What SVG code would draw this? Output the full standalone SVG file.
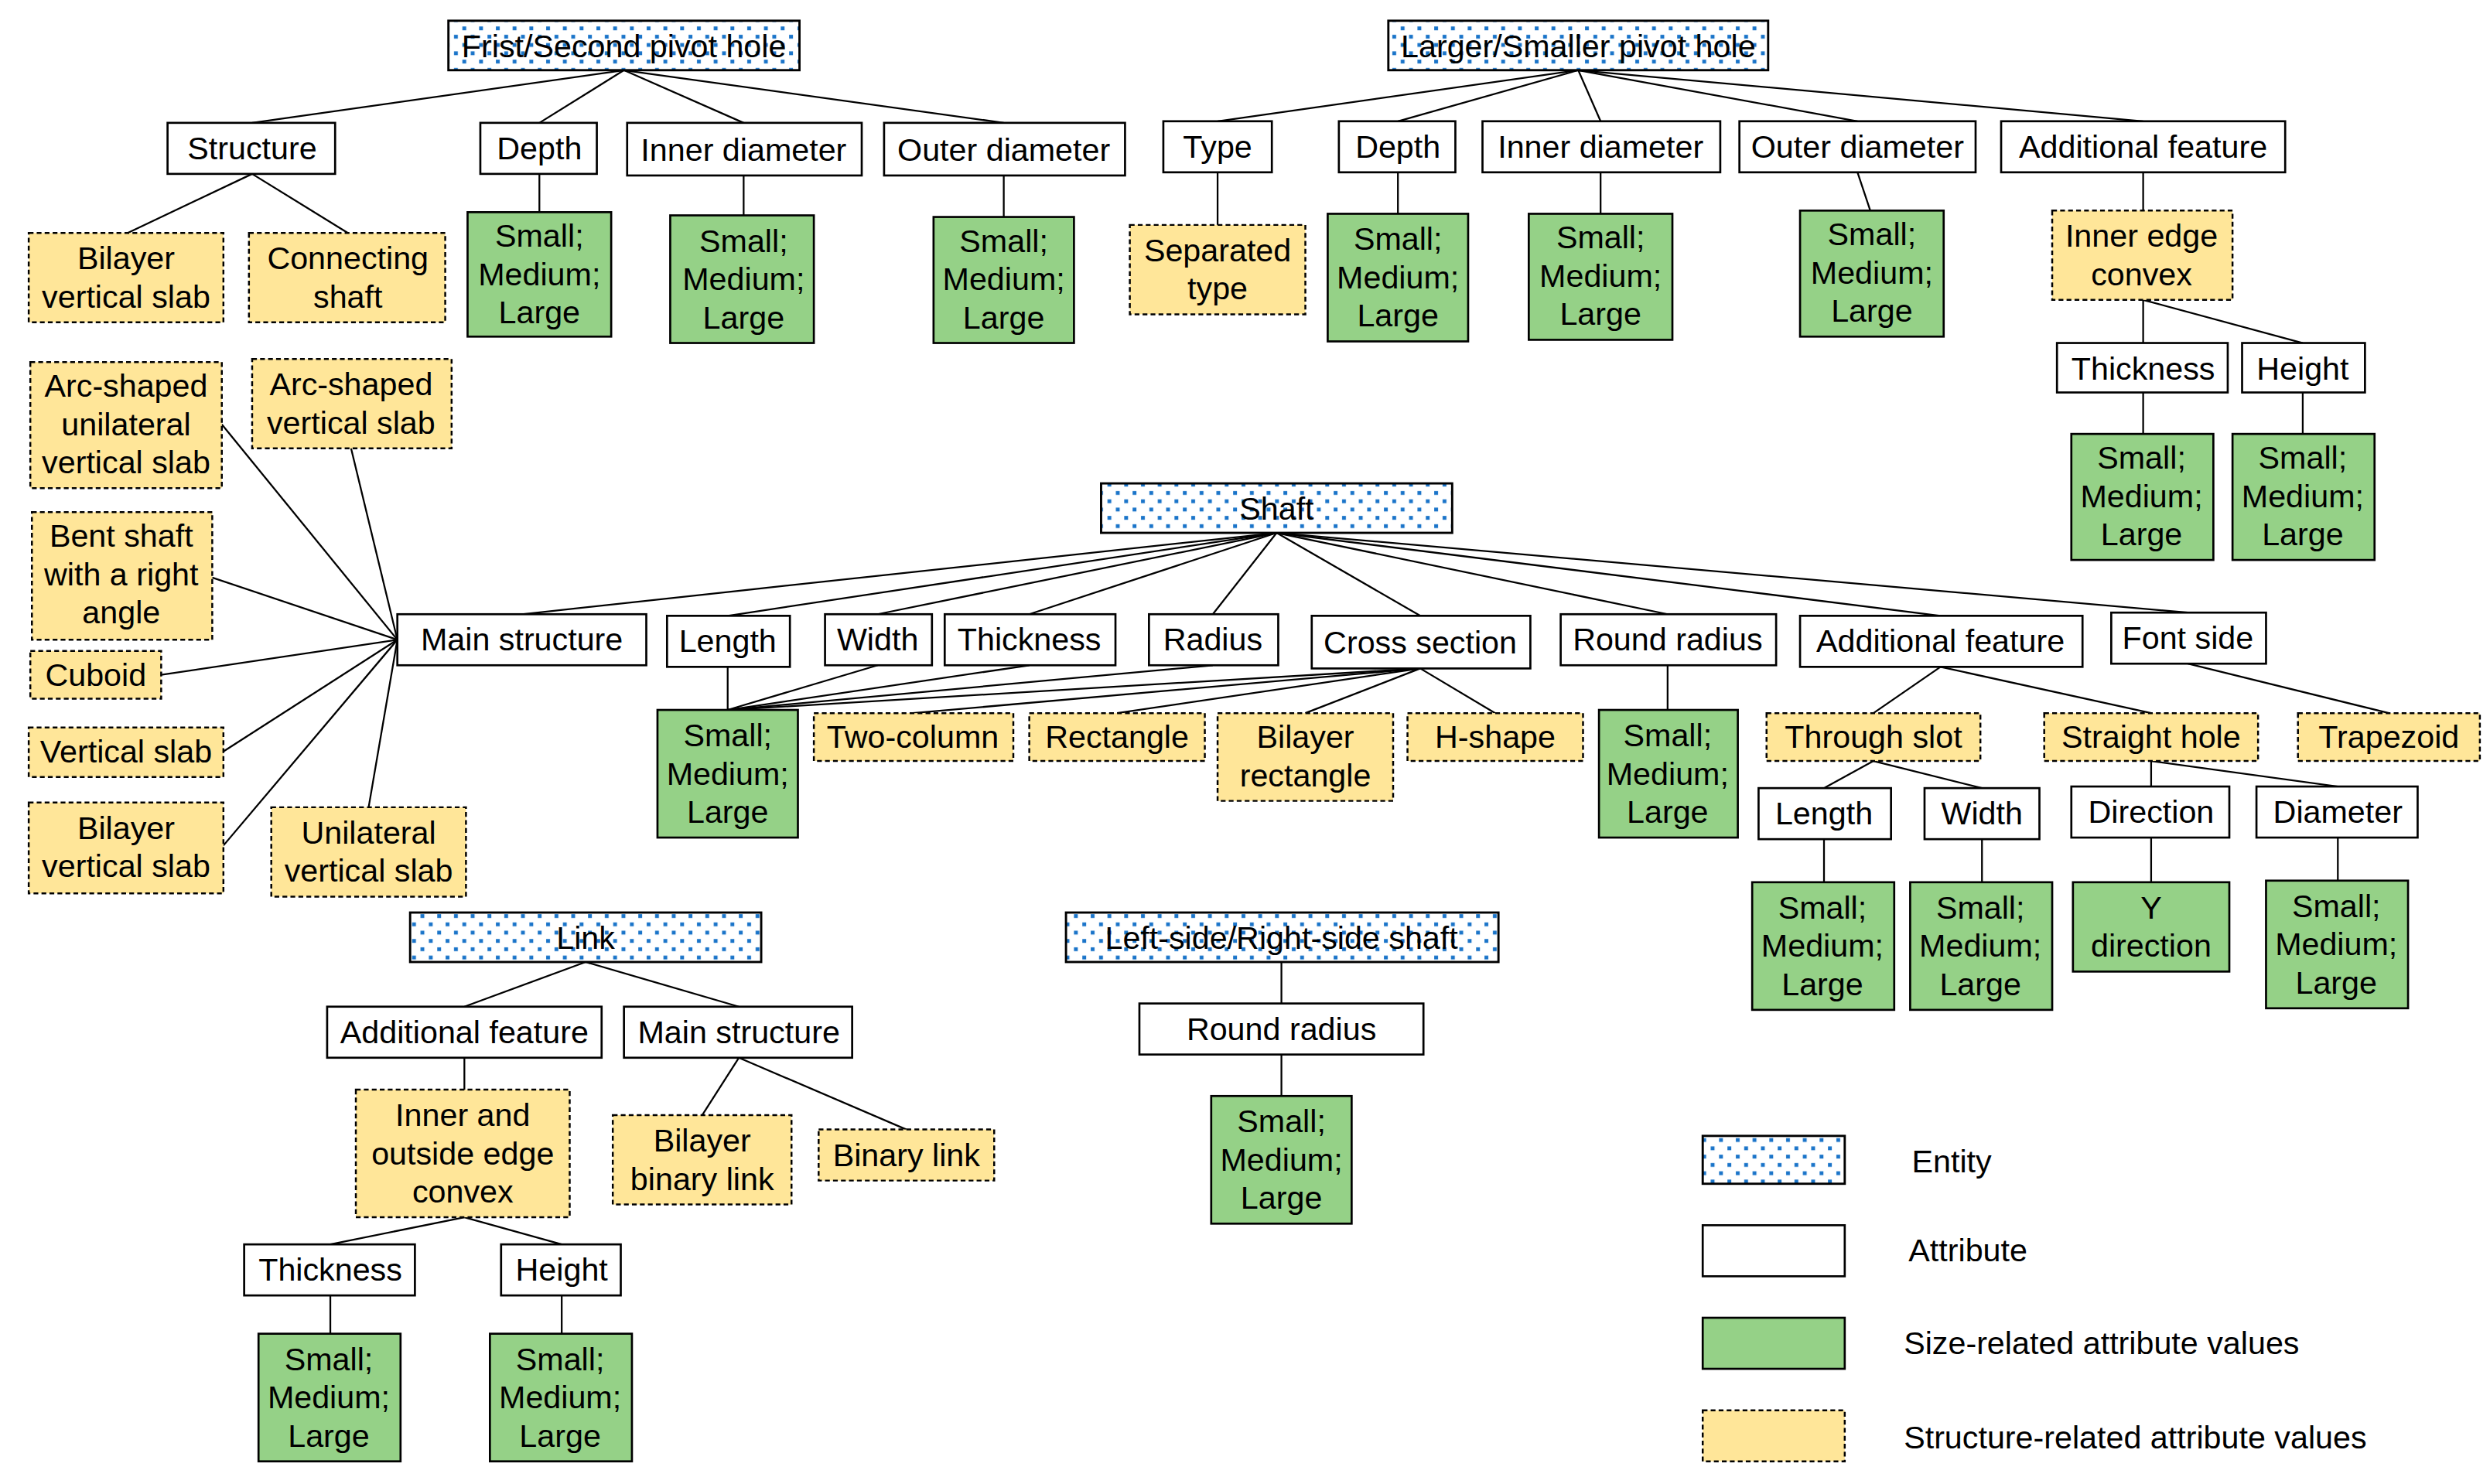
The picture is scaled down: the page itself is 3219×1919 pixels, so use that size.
<svg xmlns="http://www.w3.org/2000/svg" width="3219" height="1919" viewBox="0 0 3219 1919">
<style>
text{font-family:"Liberation Sans",Arial,sans-serif;font-size:20px;fill:#000;text-anchor:middle;dominant-baseline:central}
.lg{text-anchor:start}
.e{fill:url(#dots);stroke:#000;stroke-width:1.4}
.a{fill:#fff;stroke:#000;stroke-width:1.3}
.g{fill:#95d187;stroke:#000;stroke-width:1.3}
.y{fill:#ffe699;stroke:#000;stroke-width:1.2;stroke-dasharray:3 2}
#conn line{stroke:#000;stroke-width:1.1}
</style>
<defs>
<pattern id="dots" width="10.5" height="10.4" patternUnits="userSpaceOnUse">
<rect width="10.5" height="10.4" fill="#fff"/>
<rect x="1" y="1" width="2.4" height="2.4" fill="#1a74c9"/>
<rect x="6.25" y="6.2" width="2.4" height="2.4" fill="#1a74c9"/>
</pattern>
</defs>
<rect width="3219" height="1919" fill="#fff"/>
<g transform="scale(2.063)">
<g id="conn">
<line x1="391" y1="44" x2="158" y2="77"/><line x1="391" y1="44" x2="338" y2="77"/><line x1="391" y1="44" x2="466" y2="77"/><line x1="391" y1="44" x2="629" y2="77"/>
<line x1="158" y1="109" x2="80" y2="146"/><line x1="158" y1="109" x2="218" y2="146"/>
<line x1="338" y1="109" x2="338" y2="133"/><line x1="466" y1="110" x2="466" y2="135"/><line x1="629" y1="110" x2="629" y2="136"/>
<line x1="989" y1="44" x2="763" y2="76"/><line x1="989" y1="44" x2="876" y2="76"/><line x1="989" y1="44" x2="1003" y2="76"/><line x1="989" y1="44" x2="1164" y2="76"/><line x1="989" y1="44" x2="1343" y2="76"/>
<line x1="763" y1="108" x2="763" y2="141"/><line x1="876" y1="108" x2="876" y2="134"/><line x1="1003" y1="108" x2="1003" y2="134"/><line x1="1164" y1="108" x2="1172" y2="132"/><line x1="1343" y1="108" x2="1343" y2="132"/>
<line x1="1343" y1="188" x2="1343" y2="215"/><line x1="1343" y1="188" x2="1443" y2="215"/>
<line x1="1343" y1="246" x2="1343" y2="272"/><line x1="1443" y1="246" x2="1443" y2="272"/>
<line x1="800" y1="334" x2="327" y2="385"/><line x1="800" y1="334" x2="456" y2="386"/><line x1="800" y1="334" x2="550" y2="385"/><line x1="800" y1="334" x2="645" y2="385"/><line x1="800" y1="334" x2="760" y2="385"/><line x1="800" y1="334" x2="890" y2="386"/><line x1="800" y1="334" x2="1045" y2="385"/><line x1="800" y1="334" x2="1216" y2="386"/><line x1="800" y1="334" x2="1371" y2="384"/>
<line x1="249" y1="401" x2="139" y2="266"/><line x1="249" y1="401" x2="220" y2="281"/><line x1="249" y1="401" x2="133" y2="362"/><line x1="249" y1="401" x2="101" y2="423"/><line x1="249" y1="401" x2="140" y2="471"/><line x1="249" y1="401" x2="140" y2="530"/><line x1="249" y1="401" x2="231" y2="506"/>
<line x1="456" y1="418" x2="456" y2="445"/><line x1="550" y1="417" x2="456" y2="445"/><line x1="645" y1="417" x2="456" y2="445"/><line x1="760" y1="417" x2="456" y2="445"/><line x1="890" y1="419" x2="456" y2="445"/>
<line x1="890" y1="419" x2="572" y2="447"/><line x1="890" y1="419" x2="700" y2="447"/><line x1="890" y1="419" x2="818" y2="447"/><line x1="890" y1="419" x2="937" y2="447"/>
<line x1="1045" y1="417" x2="1045" y2="445"/>
<line x1="1216" y1="418" x2="1174" y2="447"/><line x1="1216" y1="418" x2="1348" y2="447"/><line x1="1371" y1="416" x2="1497" y2="447"/>
<line x1="1174" y1="477" x2="1143" y2="494"/><line x1="1174" y1="477" x2="1242" y2="494"/><line x1="1348" y1="477" x2="1348" y2="493"/><line x1="1348" y1="477" x2="1465" y2="493"/>
<line x1="1143" y1="526" x2="1143" y2="553"/><line x1="1242" y1="526" x2="1242" y2="553"/><line x1="1348" y1="525" x2="1348" y2="553"/><line x1="1465" y1="525" x2="1465" y2="552"/>
<line x1="367" y1="603" x2="291" y2="631"/><line x1="367" y1="603" x2="463" y2="631"/>
<line x1="291" y1="663" x2="291" y2="683"/><line x1="463" y1="663" x2="440" y2="699"/><line x1="463" y1="663" x2="568" y2="708"/>
<line x1="291" y1="763" x2="207" y2="780"/><line x1="291" y1="763" x2="352" y2="780"/>
<line x1="207" y1="812" x2="207" y2="836"/><line x1="352" y1="812" x2="352" y2="836"/>
<line x1="803" y1="603" x2="803" y2="629"/><line x1="803" y1="661" x2="803" y2="687"/>
</g>
<g id="entities">
<g id="n-frist"><rect class="e" x="281" y="13" width="220" height="31"/><text x="391" y="29">Frist/Second pivot hole</text></g>
<g id="n-larger"><rect class="e" x="870" y="13" width="238" height="31"/><text x="989" y="29">Larger/Smaller pivot hole</text></g>
<g id="n-shaft"><rect class="e" x="690" y="303" width="220" height="31"/><text x="800" y="319">Shaft</text></g>
<g id="n-link"><rect class="e" x="257" y="572" width="220" height="31"/><text x="367" y="588">Link</text></g>
<g id="n-lrshaft"><rect class="e" x="668" y="572" width="271" height="31"/><text x="803" y="588">Left-side/Right-side shaft</text></g>
</g>
<g id="attributes">
<g id="a1"><rect class="a" x="105" y="77" width="105" height="32"/><text x="158" y="93">Structure</text></g>
<g id="a2"><rect class="a" x="301" y="77" width="73" height="32"/><text x="338" y="93">Depth</text></g>
<g id="a3"><rect class="a" x="393" y="77" width="147" height="33"/><text x="466" y="94">Inner diameter</text></g>
<g id="a4"><rect class="a" x="554" y="77" width="151" height="33"/><text x="629" y="94">Outer diameter</text></g>
<g id="a5"><rect class="a" x="729" y="76" width="68" height="32"/><text x="763" y="92">Type</text></g>
<g id="a6"><rect class="a" x="839" y="76" width="73" height="32"/><text x="876" y="92">Depth</text></g>
<g id="a7"><rect class="a" x="929" y="76" width="149" height="32"/><text x="1003" y="92">Inner diameter</text></g>
<g id="a8"><rect class="a" x="1090" y="76" width="148" height="32"/><text x="1164" y="92">Outer diameter</text></g>
<g id="a9"><rect class="a" x="1254" y="76" width="178" height="32"/><text x="1343" y="92">Additional feature</text></g>
<g id="a10"><rect class="a" x="1289" y="215" width="107" height="31"/><text x="1343" y="231">Thickness</text></g>
<g id="a11"><rect class="a" x="1405" y="215" width="77" height="31"/><text x="1443" y="231">Height</text></g>
<g id="a12"><rect class="a" x="249" y="385" width="156" height="32"/><text x="327" y="401">Main structure</text></g>
<g id="a13"><rect class="a" x="418" y="386" width="77" height="32"/><text x="456" y="402">Length</text></g>
<g id="a14"><rect class="a" x="517" y="385" width="67" height="32"/><text x="550" y="401">Width</text></g>
<g id="a15"><rect class="a" x="592" y="385" width="107" height="32"/><text x="645" y="401">Thickness</text></g>
<g id="a16"><rect class="a" x="720" y="385" width="81" height="32"/><text x="760" y="401">Radius</text></g>
<g id="a17"><rect class="a" x="822" y="386" width="137" height="33"/><text x="890" y="403">Cross section</text></g>
<g id="a18"><rect class="a" x="978" y="385" width="135" height="32"/><text x="1045" y="401">Round radius</text></g>
<g id="a19"><rect class="a" x="1128" y="386" width="177" height="32"/><text x="1216" y="402">Additional feature</text></g>
<g id="a20"><rect class="a" x="1323" y="384" width="97" height="32"/><text x="1371" y="400">Font side</text></g>
<g id="a21"><rect class="a" x="1102" y="494" width="83" height="32"/><text x="1143" y="510">Length</text></g>
<g id="a22"><rect class="a" x="1206" y="494" width="72" height="32"/><text x="1242" y="510">Width</text></g>
<g id="a23"><rect class="a" x="1298" y="493" width="99" height="32"/><text x="1348" y="509">Direction</text></g>
<g id="a24"><rect class="a" x="1414" y="493" width="101" height="32"/><text x="1465" y="509">Diameter</text></g>
<g id="a25"><rect class="a" x="205" y="631" width="172" height="32"/><text x="291" y="647">Additional feature</text></g>
<g id="a26"><rect class="a" x="391" y="631" width="143" height="32"/><text x="463" y="647">Main structure</text></g>
<g id="a27"><rect class="a" x="153" y="780" width="107" height="32"/><text x="207" y="796">Thickness</text></g>
<g id="a28"><rect class="a" x="314" y="780" width="75" height="32"/><text x="352" y="796">Height</text></g>
<g id="a29"><rect class="a" x="714" y="629" width="178" height="32"/><text x="803" y="645">Round radius</text></g>
</g>
<g id="sizes">
<g id="g1"><rect class="g" x="293" y="133" width="90" height="78"/><text x="338"><tspan x="338" y="148">Small;</tspan><tspan x="338" y="172">Medium;</tspan><tspan x="338" y="196">Large</tspan></text></g>
<g id="g2"><rect class="g" x="420" y="135" width="90" height="80"/><text><tspan x="466" y="151">Small;</tspan><tspan x="466" y="175">Medium;</tspan><tspan x="466" y="199">Large</tspan></text></g>
<g id="g3"><rect class="g" x="585" y="136" width="88" height="79"/><text><tspan x="629" y="151">Small;</tspan><tspan x="629" y="175">Medium;</tspan><tspan x="629" y="199">Large</tspan></text></g>
<g id="g4"><rect class="g" x="832" y="134" width="88" height="80"/><text><tspan x="876" y="150">Small;</tspan><tspan x="876" y="174">Medium;</tspan><tspan x="876" y="198">Large</tspan></text></g>
<g id="g5"><rect class="g" x="958" y="134" width="90" height="79"/><text><tspan x="1003" y="149">Small;</tspan><tspan x="1003" y="173">Medium;</tspan><tspan x="1003" y="197">Large</tspan></text></g>
<g id="g6"><rect class="g" x="1128" y="132" width="90" height="79"/><text><tspan x="1173" y="147">Small;</tspan><tspan x="1173" y="171">Medium;</tspan><tspan x="1173" y="195">Large</tspan></text></g>
<g id="g7"><rect class="g" x="1298" y="272" width="89" height="79"/><text><tspan x="1342" y="287">Small;</tspan><tspan x="1342" y="311">Medium;</tspan><tspan x="1342" y="335">Large</tspan></text></g>
<g id="g8"><rect class="g" x="1399" y="272" width="89" height="79"/><text><tspan x="1443" y="287">Small;</tspan><tspan x="1443" y="311">Medium;</tspan><tspan x="1443" y="335">Large</tspan></text></g>
<g id="g9"><rect class="g" x="412" y="445" width="88" height="80"/><text><tspan x="456" y="461">Small;</tspan><tspan x="456" y="485">Medium;</tspan><tspan x="456" y="509">Large</tspan></text></g>
<g id="g10"><rect class="g" x="1002" y="445" width="87" height="80"/><text><tspan x="1045" y="461">Small;</tspan><tspan x="1045" y="485">Medium;</tspan><tspan x="1045" y="509">Large</tspan></text></g>
<g id="g11"><rect class="g" x="1098" y="553" width="89" height="80"/><text><tspan x="1142" y="569">Small;</tspan><tspan x="1142" y="593">Medium;</tspan><tspan x="1142" y="617">Large</tspan></text></g>
<g id="g12"><rect class="g" x="1197" y="553" width="89" height="80"/><text><tspan x="1241" y="569">Small;</tspan><tspan x="1241" y="593">Medium;</tspan><tspan x="1241" y="617">Large</tspan></text></g>
<g id="g13"><rect class="g" x="1299" y="553" width="98" height="56"/><text><tspan x="1348" y="569">Y</tspan><tspan x="1348" y="593">direction</tspan></text></g>
<g id="g14"><rect class="g" x="1420" y="552" width="89" height="80"/><text><tspan x="1464" y="568">Small;</tspan><tspan x="1464" y="592">Medium;</tspan><tspan x="1464" y="616">Large</tspan></text></g>
<g id="g15"><rect class="g" x="162" y="836" width="89" height="80"/><text><tspan x="206" y="852">Small;</tspan><tspan x="206" y="876">Medium;</tspan><tspan x="206" y="900">Large</tspan></text></g>
<g id="g16"><rect class="g" x="307" y="836" width="89" height="80"/><text><tspan x="351" y="852">Small;</tspan><tspan x="351" y="876">Medium;</tspan><tspan x="351" y="900">Large</tspan></text></g>
<g id="g17"><rect class="g" x="759" y="687" width="88" height="80"/><text><tspan x="803" y="703">Small;</tspan><tspan x="803" y="727">Medium;</tspan><tspan x="803" y="751">Large</tspan></text></g>
</g>
<g id="structures">
<g id="y1"><rect class="y" x="18" y="146" width="122" height="56"/><text><tspan x="79" y="162">Bilayer</tspan><tspan x="79" y="186">vertical slab</tspan></text></g>
<g id="y2"><rect class="y" x="156" y="146" width="123" height="56"/><text><tspan x="218" y="162">Connecting</tspan><tspan x="218" y="186">shaft</tspan></text></g>
<g id="y3"><rect class="y" x="708" y="141" width="110" height="56"/><text><tspan x="763" y="157">Separated</tspan><tspan x="763" y="181">type</tspan></text></g>
<g id="y4"><rect class="y" x="1286" y="132" width="113" height="56"/><text><tspan x="1342" y="148">Inner edge</tspan><tspan x="1342" y="172">convex</tspan></text></g>
<g id="y5"><rect class="y" x="19" y="227" width="120" height="79"/><text><tspan x="79" y="242">Arc-shaped</tspan><tspan x="79" y="266">unilateral</tspan><tspan x="79" y="290">vertical slab</tspan></text></g>
<g id="y6"><rect class="y" x="158" y="225" width="125" height="56"/><text><tspan x="220" y="241">Arc-shaped</tspan><tspan x="220" y="265">vertical slab</tspan></text></g>
<g id="y7"><rect class="y" x="20" y="321" width="113" height="80"/><text><tspan x="76" y="336">Bent shaft</tspan><tspan x="76" y="360">with a right</tspan><tspan x="76" y="384">angle</tspan></text></g>
<g id="y8"><rect class="y" x="19" y="408" width="82" height="30"/><text x="60" y="423">Cuboid</text></g>
<g id="y9"><rect class="y" x="18" y="456" width="122" height="31"/><text x="79" y="471">Vertical slab</text></g>
<g id="y10"><rect class="y" x="18" y="503" width="122" height="57"/><text><tspan x="79" y="519">Bilayer</tspan><tspan x="79" y="543">vertical slab</tspan></text></g>
<g id="y11"><rect class="y" x="170" y="506" width="122" height="56"/><text><tspan x="231" y="522">Unilateral</tspan><tspan x="231" y="546">vertical slab</tspan></text></g>
<g id="y12"><rect class="y" x="510" y="447" width="125" height="30"/><text x="572" y="462">Two-column</text></g>
<g id="y13"><rect class="y" x="645" y="447" width="110" height="30"/><text x="700" y="462">Rectangle</text></g>
<g id="y14"><rect class="y" x="763" y="447" width="110" height="55"/><text><tspan x="818" y="462">Bilayer</tspan><tspan x="818" y="486">rectangle</tspan></text></g>
<g id="y15"><rect class="y" x="882" y="447" width="110" height="30"/><text x="937" y="462">H-shape</text></g>
<g id="y16"><rect class="y" x="1107" y="447" width="134" height="30"/><text x="1174" y="462">Through slot</text></g>
<g id="y17"><rect class="y" x="1281" y="447" width="134" height="30"/><text x="1348" y="462">Straight hole</text></g>
<g id="y18"><rect class="y" x="1440" y="447" width="114" height="30"/><text x="1497" y="462">Trapezoid</text></g>
<g id="y19"><rect class="y" x="223" y="683" width="134" height="80"/><text><tspan x="290" y="699">Inner and</tspan><tspan x="290" y="723">outside edge</tspan><tspan x="290" y="747">convex</tspan></text></g>
<g id="y20"><rect class="y" x="384" y="699" width="112" height="56"/><text><tspan x="440" y="715">Bilayer</tspan><tspan x="440" y="739">binary link</tspan></text></g>
<g id="y21"><rect class="y" x="513" y="708" width="110" height="32"/><text x="568" y="724">Binary link</text></g>
</g>
<g id="legend">
<rect class="e" x="1067" y="712" width="89" height="30"/><text class="lg" x="1198" y="728">Entity</text>
<rect class="a" x="1067" y="768" width="89" height="32"/><text class="lg" x="1196" y="784">Attribute</text>
<rect class="g" x="1067" y="826" width="89" height="32"/><text class="lg" x="1193" y="842">Size-related attribute values</text>
<rect class="y" x="1067" y="884" width="89" height="32"/><text class="lg" x="1193" y="901">Structure-related attribute values</text>
</g>
</g>
</svg>
